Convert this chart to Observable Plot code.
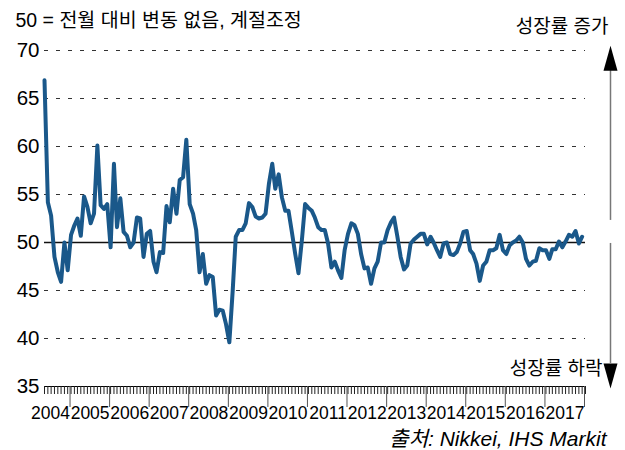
<!DOCTYPE html>
<html>
<head>
<meta charset="utf-8">
<script src="https://cdn.jsdelivr.net/npm/d3@7"></script>
<script src="https://cdn.jsdelivr.net/npm/@observablehq/plot@0.6"></script>
<style>
  body { margin: 0; background: #fff; }
</style>
</head>
<body>
<div id="chart"></div>
<script>
// ---- data (monthly, May 2004 onwards) ----
const pmiValues = [
  66.9, 54.2, 52.8, 48.5, 46.9, 45.9, 50.0, 47.1, 50.8, 51.8,
  52.5, 50.7, 54.8, 53.7, 52.0, 53.0, 60.1, 53.9, 53.5, 54.0,
  49.5, 58.2, 51.6, 54.6, 51.1, 50.7, 49.5, 50.0, 52.6, 52.5,
  48.5, 50.9, 51.2, 48.0, 46.9, 49.0, 48.9, 53.8, 52.1, 55.6,
  53.0, 56.5, 56.8, 60.7, 54.0, 53.0, 51.3, 46.9, 48.8, 45.7,
  46.6, 46.4, 42.4, 43.0, 42.9, 41.5, 39.6, 45.0, 50.6, 51.3,
  51.3, 52.0, 54.1, 53.7, 52.7, 52.5, 52.6, 53.0, 56.1, 58.2,
  55.6, 57.1, 54.7, 53.3, 53.3, 51.1, 48.8, 46.8, 50.2, 54.0,
  53.6, 53.3, 52.6, 51.6, 51.3, 51.3, 49.9, 47.4, 48.0, 47.1,
  46.3, 49.2, 50.9, 52.0, 51.8, 50.9, 48.8, 47.3, 47.4, 45.7,
  47.3, 48.0, 50.0, 50.0, 51.3, 52.1, 52.6, 50.6, 48.5, 47.2,
  47.6, 49.9, 50.3, 50.6, 50.9, 50.9, 49.8, 50.6, 50.0, 49.2,
  48.5, 49.9, 50.0, 48.8, 48.7, 49.0, 49.9, 51.1, 51.2, 49.2,
  48.8, 47.8, 46.0, 47.6, 48.0, 49.2, 49.2, 49.4, 50.8, 49.2,
  48.8, 49.7, 50.0, 50.2, 50.6, 50.0, 48.3, 47.6, 48.0, 48.1,
  49.4, 49.2, 49.2, 48.3, 49.3, 49.3, 50.1, 49.5, 50.1, 50.8,
  50.6, 51.2, 49.9, 50.6
];
const firstYear = 2004;
const firstMonth = 4; // May (0-based)
const yTicks = [35, 40, 45, 50, 55, 60, 65, 70];
const gridValues = [40, 45, 55, 60, 65, 70];
const referenceLevel = [50];
const yearLabels = ["2004","2005","2006","2007","2008","2009","2010","2011","2012","2013","2014","2015","2016","2017"];
const titleText = "50 = 전월 대비 변동 없음, 계절조정";
const upLabel = "성장률 증가";
const downLabel = "성장률 하락";
const sourceText = "출처: Nikkei, IHS Markit";
// annotation arrows (in index units: value levels)
const arrowShafts = [{y1: 52.3, y2: 67.9}, {y1: 49.9, y2: 37.4}];
const arrowUpTip = [70.5];
const arrowDownTip = [34.8];

// ---- derived ----
const data = pmiValues.map((v, i) => ({date: new Date(Date.UTC(firstYear, firstMonth + i, 1)), value: v}));
const xStart = new Date(Date.UTC(firstYear, firstMonth, 1));
const xEnd = new Date(Date.UTC(+yearLabels[yearLabels.length - 1] + 1, 0, 1));
const monthTicks = d3.utcMonths(xStart, d3.utcMonth.offset(xEnd, 1));
const yearTicks = yearLabels.map(y => new Date(Date.UTC(+y + 1, 0, 1)));
const yearFormat = d => yearLabels[yearTicks.findIndex(t => +t === +d)] ?? "";

const upHead = {draw(ctx) { ctx.moveTo(0, 0); ctx.lineTo(-7, 25); ctx.lineTo(7, 25); ctx.closePath(); }};
const downHead = {draw(ctx) { ctx.moveTo(0, 0); ctx.lineTo(-7, -25); ctx.lineTo(7, -25); ctx.closePath(); }};

const font = "'Liberation Sans', Arial, 'Noto Sans CJK KR', sans-serif";

const chart = Plot.plot({
  width: 625,
  height: 450,
  marginLeft: 44,
  marginRight: 40,
  marginTop: 50,
  marginBottom: 64,
  style: {fontFamily: font, background: "#fff", color: "#000", overflow: "visible"},
  x: {type: "utc", domain: [xStart, xEnd], label: null},
  y: {domain: [35, 70], label: null},
  marks: [
    Plot.ruleY(gridValues, {stroke: "#333", strokeWidth: 1, strokeDasharray: "4,8"}),
    Plot.ruleY(referenceLevel, {stroke: "#111", strokeWidth: 1.5}),
    Plot.ruleY([35], {stroke: "#000", strokeWidth: 1}),
    Plot.axisY({ticks: yTicks, tickSize: 0, tickPadding: 5, fontSize: 20.5, label: null}),
    Plot.axisX({ticks: monthTicks, tickSize: 8, tickFormat: () => "", stroke: "#222", label: null}),
    Plot.axisX({ticks: yearTicks, tickSize: 21, tickPadding: -1, tickFormat: yearFormat, textAnchor: "end", dx: -1, fontSize: 17.5, stroke: "#555", label: null}),
    Plot.line(data, {x: "date", y: "value", stroke: "#1a588a", strokeWidth: 4, strokeLinejoin: "round", strokeLinecap: "round"}),
    Plot.ruleX(arrowShafts, {x: () => xEnd, y1: "y1", y2: "y2", dx: 25, stroke: "#777", strokeWidth: 1.5}),
    Plot.dot(arrowUpTip, {x: () => xEnd, y: d => d, dx: 25, symbol: upHead, fill: "#000", stroke: "none"}),
    Plot.dot(arrowDownTip, {x: () => xEnd, y: d => d, dx: 25, symbol: downHead, fill: "#000", stroke: "none"}),
    Plot.text([titleText], {text: d => d, frameAnchor: "top-left", dx: -29, dy: -30, textAnchor: "start", lineAnchor: "middle", fontSize: 19.5, fill: "#000"}),
    Plot.text([upLabel], {text: d => d, frameAnchor: "top-right", dx: 23, dy: -24, textAnchor: "end", lineAnchor: "middle", fontSize: 19, fill: "#000"}),
    Plot.text([downLabel], {text: d => d, frameAnchor: "bottom-right", dx: 17, dy: -18, textAnchor: "end", lineAnchor: "middle", fontSize: 19, fill: "#000"}),
    Plot.text([sourceText], {text: d => d, frameAnchor: "bottom-right", dx: 21, dy: 53, textAnchor: "end", lineAnchor: "middle", fontSize: 21, fontStyle: "italic", fill: "#000"})
  ]
});
document.getElementById("chart").appendChild(chart);
</script>
</body>
</html>
